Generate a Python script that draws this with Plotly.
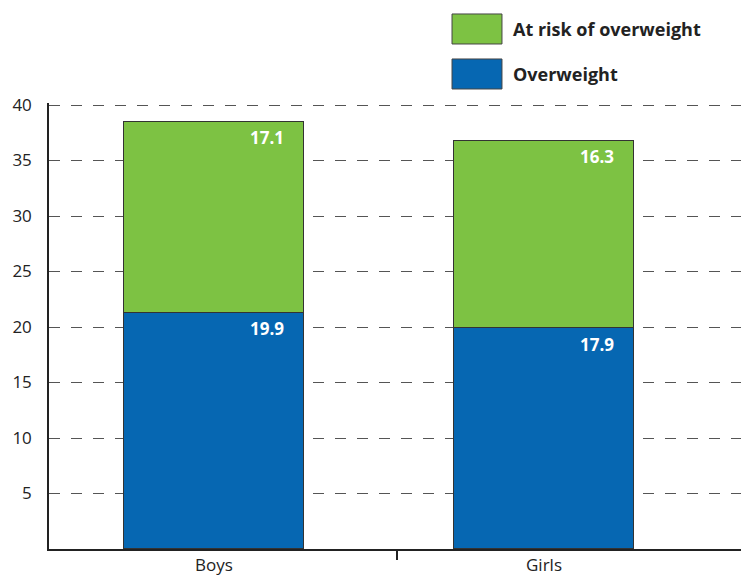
import plotly.graph_objects as go

categories = ["Boys", "Girls"]
overweight = [21.3, 19.9]          # bar heights
at_risk = [17.2, 16.9]
overweight_labels = ["19.9", "17.9"]
at_risk_labels = ["17.1", "16.3"]
y_ticks = [5, 10, 15, 20, 25, 30, 35, 40]

GREEN = "#7dc243"
BLUE = "#0667b2"
FONT = "Open Sans"
BAR_W = 0.545

x = list(range(len(categories)))

fig = go.Figure()
fig.add_trace(go.Bar(x=x, y=overweight, width=BAR_W, marker=dict(color=BLUE, line=dict(color="#333", width=1)),
                     name="Overweight", showlegend=False))
fig.add_trace(go.Bar(x=x, y=at_risk, width=BAR_W, marker=dict(color=GREEN, line=dict(color="#333", width=1)),
                     name="At risk of overweight", showlegend=False))
# invisible trace for the overlay axis carrying the separator tick
fig.add_trace(go.Scatter(x=[None], y=[None], xaxis="x2", showlegend=False, hoverinfo="skip"))

annotations = []
for i in x:
    annotations.append(dict(x=i + BAR_W / 2, y=overweight[i], xref="x", yref="y", text="<b>%s</b>" % overweight_labels[i],
                            showarrow=False, xanchor="right", yanchor="middle", xshift=-18, yshift=-16,
                            font=dict(family=FONT, size=17, color="white")))
    annotations.append(dict(x=i + BAR_W / 2, y=overweight[i] + at_risk[i], xref="x", yref="y",
                            text="<b>%s</b>" % at_risk_labels[i],
                            showarrow=False, xanchor="right", yanchor="middle", xshift=-18, yshift=-16,
                            font=dict(family=FONT, size=17, color="white")))

# custom legend (paper coords; paper spans y 103..549)
legend_items = [("At risk of overweight", GREEN, 1.1996, 1.1323), ("Overweight", BLUE, 1.0987, 1.0314)]
shapes = []
for name, col, y1, y0 in legend_items:
    shapes.append(dict(type="rect", xref="paper", yref="paper", x0=0.5824, x1=0.6546, y0=y0, y1=y1,
                       fillcolor=col, line=dict(color="#444", width=1)))
    annotations.append(dict(x=0.667, y=(y0 + y1) / 2, xref="paper", yref="paper", text="<b>%s</b>" % name,
                            showarrow=False, xanchor="left", yanchor="middle",
                            font=dict(family=FONT, size=18, color="#222")))

fig.update_layout(
    width=741, height=576,
    margin=dict(l=49, r=0, t=103, b=27),
    barmode="stack",
    plot_bgcolor="white", paper_bgcolor="white",
    font=dict(family=FONT, size=16, color="#222"),
    xaxis=dict(range=[-0.5, 1.597], tickvals=x, ticktext=categories, ticks="", showline=True,
               linecolor="#222", linewidth=1.5, showgrid=False, zeroline=False,
               tickfont=dict(size=17, color="#222")),
    xaxis2=dict(overlaying="x", anchor="y", side="bottom", range=[-0.5, 1.597], tickvals=[0.5545],
                showticklabels=False, ticks="outside", ticklen=10, tickwidth=1.5, tickcolor="#222",
                showgrid=False, zeroline=False, showline=False),
    yaxis=dict(range=[0, 40.18], tickvals=y_ticks, showline=True, linecolor="#222", linewidth=1.5,
               showgrid=True, gridcolor="#555", gridwidth=1, griddash="11px,11px", zeroline=False,
               ticks="", ticklabelstandoff=12, tickfont=dict(size=17, color="#222")),
    shapes=shapes,
    annotations=annotations,
    bargap=0,
)

fig.write_html("out.html")
